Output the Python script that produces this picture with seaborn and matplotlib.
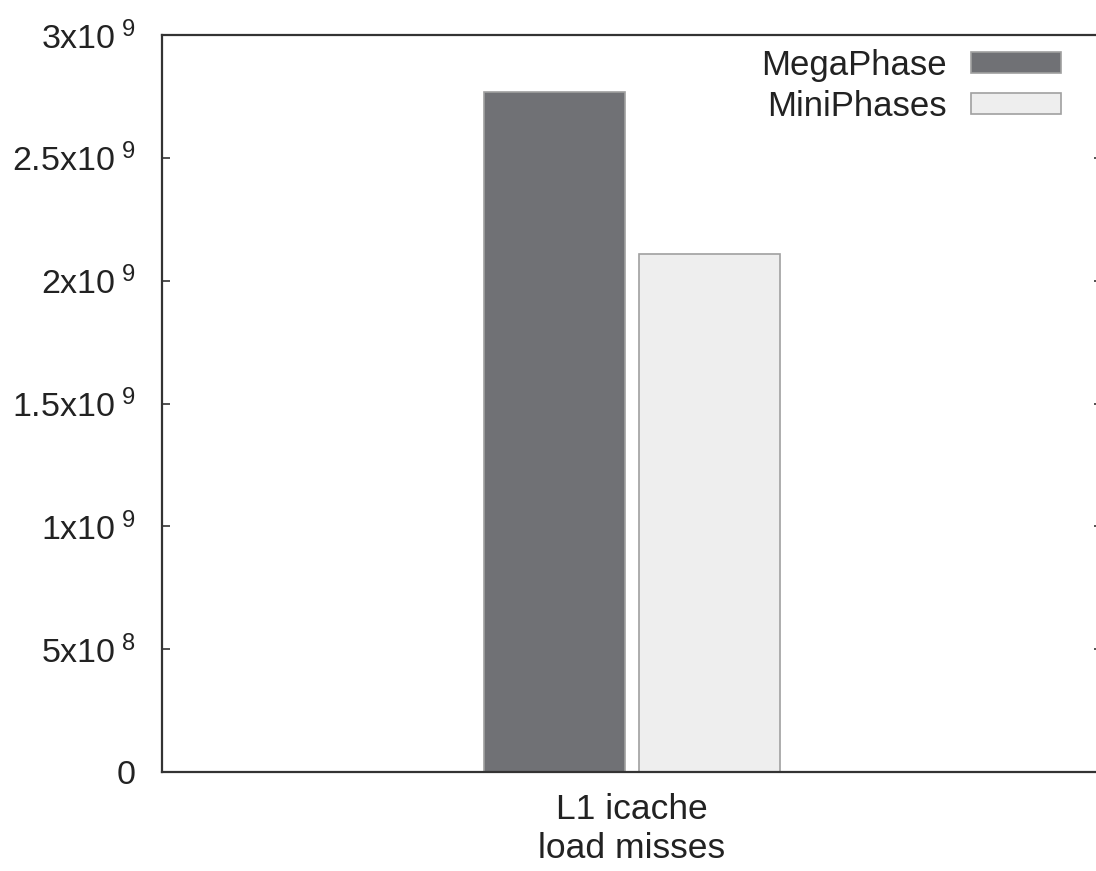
import matplotlib
matplotlib.use("Agg")
import matplotlib.pyplot as plt
import seaborn as sns
import pandas as pd

# values
categories = ["L1 icache\nload misses"]
series = ["MegaPhase", "MiniPhases"]
megaphase = [2.768e9]
miniphases = [2.109e9]
y_ticks = [0, 5e8, 1e9, 1.5e9, 2e9, 2.5e9, 3e9]
y_tick_labels = ["0", r"5x10$^{\ 8}$", r"1x10$^{\ 9}$", r"1.5x10$^{\ 9}$",
                 r"2x10$^{\ 9}$", r"2.5x10$^{\ 9}$", r"3x10$^{\ 9}$"]

df = pd.DataFrame({
    "category": categories * 2,
    "series": [series[0]] * len(megaphase) + [series[1]] * len(miniphases),
    "value": megaphase + miniphases,
})

sns.set_style("white")
plt.rcParams["font.family"] = ["Liberation Sans", "DejaVu Sans"]
plt.rcParams["mathtext.fontset"] = "custom"
plt.rcParams["mathtext.rm"] = "Liberation Sans"
plt.rcParams["mathtext.it"] = "Liberation Sans"
plt.rcParams["mathtext.bf"] = "Liberation Sans"

fig = plt.figure(figsize=(10.96, 8.71), dpi=100)
# right edge of the frame lies just past the picture
ax = fig.add_axes([162 / 1096, 99 / 871, 940 / 1096, 737 / 871])

palette = {"MegaPhase": "#707175", "MiniPhases": "#eeeeee"}
sns.barplot(data=df, x="category", y="value", hue="series", hue_order=series,
            palette=palette, width=0.33, gap=0.09, saturation=1,
            edgecolor="#a0a0a0", linewidth=1.2, ax=ax)

ax.set_xlim(-0.5, 0.5)
ax.set_ylim(0, 3e9)
ax.set_yticks(y_ticks)
ax.set_yticklabels(y_tick_labels)
ax.set_xlabel("")
ax.set_ylabel("")

for side in ["left", "bottom", "top", "right"]:
    ax.spines[side].set_visible(True)
    ax.spines[side].set_color("#333333")
    ax.spines[side].set_linewidth(1.6)

ax.tick_params(axis="y", direction="in", length=6, width=1.2, color="#333333",
               labelsize=24.5, labelcolor="#222222", pad=19, right=True, left=True)
ax.tick_params(axis="x", direction="in", length=7, width=1.2, color="#333333",
               labelsize=25.5, labelcolor="#222222", pad=15, top=False)
for lbl in ax.get_xticklabels():
    lbl.set_linespacing(1.25)

handles, labels = ax.get_legend_handles_labels()
ax.legend(handles, labels, loc="upper right",
          bbox_to_anchor=(1061 / 1096, (871 - 49) / 871),
          bbox_transform=fig.transFigure, frameon=False, markerfirst=False,
          fontsize=25, handlelength=2.6, handleheight=0.55, handletextpad=0.7,
          labelspacing=0.22, borderpad=0, borderaxespad=0,
          labelcolor="#222222")

fig.savefig("out.png", dpi=100)
